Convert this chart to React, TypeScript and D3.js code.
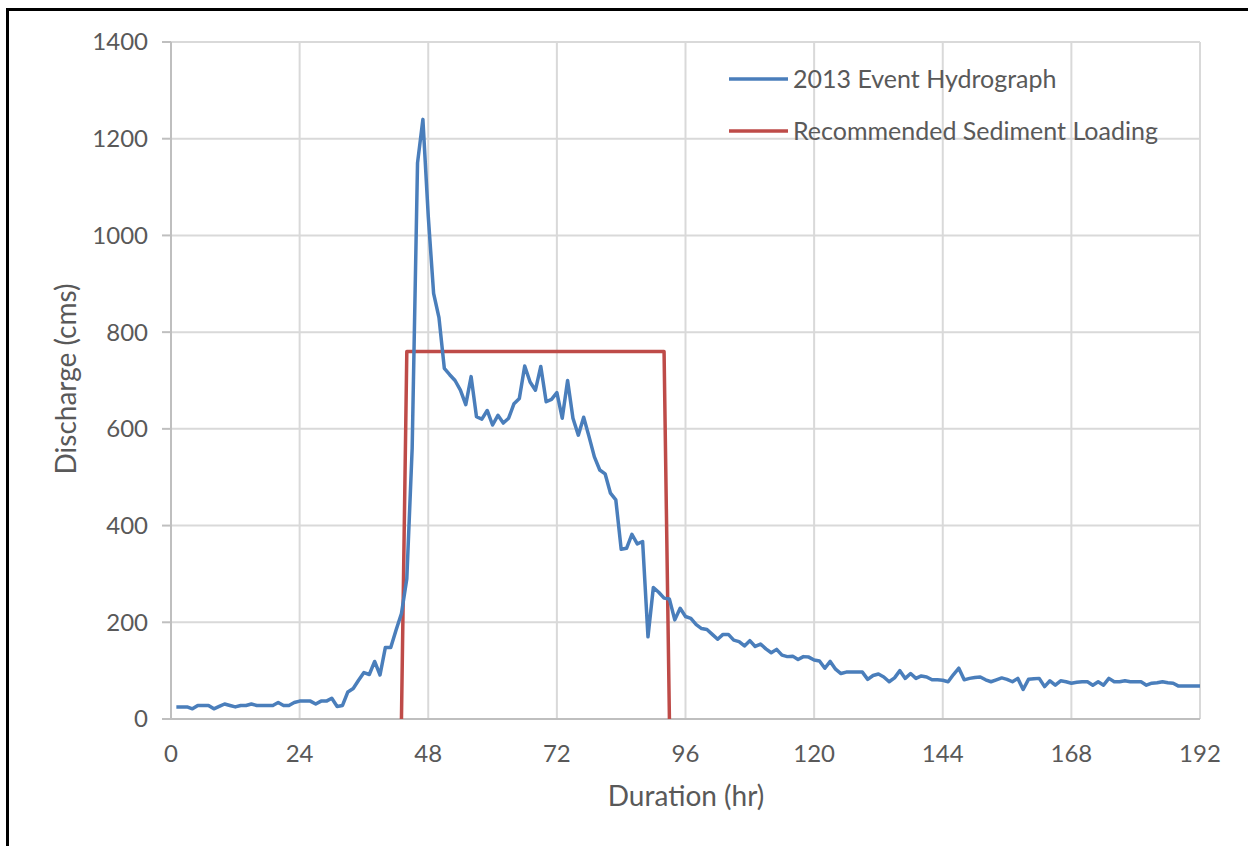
import React, { useEffect, useRef } from 'react';
import * as d3 from 'd3';

// hourly discharge (cms), hours 1..192
const hydrograph = [
  25, 25, 25, 21, 28, 28, 28, 21, 26, 31,
  28, 25, 28, 28, 31, 28, 28, 28, 28, 34,
  28, 28, 34, 37, 37, 37, 31, 37, 37, 43,
  26, 28, 56, 63, 80, 96, 92, 119, 91, 148,
  148, 184, 218, 290, 560, 1150, 1240, 1040, 880, 830,
  725, 712, 700, 680, 650, 708, 625, 620, 638, 608,
  628, 612, 622, 652, 663, 730, 697, 680, 729, 656,
  661, 675, 622, 700, 622, 587, 624, 584, 542, 515,
  507, 467, 453, 351, 353, 382, 362, 367, 170, 272,
  262, 250, 248, 205, 229, 212, 208, 195, 187, 185,
  175, 165, 175, 175, 163, 160, 151, 162, 150, 155,
  145, 137, 144, 132, 129, 130, 123, 129, 128, 122,
  120, 105, 119, 103, 94, 97, 97, 97, 97, 82,
  90, 93, 87, 77, 85, 100, 84, 94, 84, 89,
  87, 81, 81, 80, 77, 92, 105, 81, 84, 86,
  87, 81, 77, 81, 85, 82, 77, 84, 61, 82,
  83, 84, 67, 79, 70, 79, 77, 74, 76, 77,
  77, 70, 77, 70, 84, 77, 77, 79, 77, 77,
  77, 70, 74, 75, 77, 75, 74, 68, 68, 68,
  68, 68,
];

const loadingHours = [43, 44, 92, 93];
const loadingValues = [0, 760, 760, 0];

const xTicks = [0, 24, 48, 72, 96, 120, 144, 168, 192];
const yTicks = [0, 200, 400, 600, 800, 1000, 1200, 1400];

const seriesNames = ['2013 Event Hydrograph', 'Recommended Sediment Loading'];
const seriesColors = ['#4a7ebb', '#be4b48'];

const FONT = 'Lato, "Open Sans", sans-serif';
const TEXT = '#595959';

export default function App() {
  const ref = useRef<SVGSVGElement>(null);

  useEffect(() => {
    const svg = d3.select(ref.current);
    svg.selectAll('*').remove();

    const x = d3.scaleLinear().domain([0, 192]).range([171, 1200]);
    const y = d3.scaleLinear().domain([0, 1400]).range([719, 42]);

    // frame
    svg.append('line').attr('x1', 6).attr('x2', 1248).attr('y1', 9.5).attr('y2', 9.5)
      .attr('stroke', '#000').attr('stroke-width', 3);
    svg.append('line').attr('x1', 7.5).attr('x2', 7.5).attr('y1', 8).attr('y2', 846)
      .attr('stroke', '#000').attr('stroke-width', 3);

    // grid
    svg.append('g').selectAll('line').data(yTicks.filter(d => d > 0)).enter().append('line')
      .attr('x1', x(0)).attr('x2', x(192))
      .attr('y1', d => y(d)).attr('y2', d => y(d))
      .attr('stroke', '#d9d9d9').attr('stroke-width', 2);
    svg.append('g').selectAll('line').data(xTicks.filter(d => d > 0)).enter().append('line')
      .attr('x1', d => x(d)).attr('x2', d => x(d))
      .attr('y1', y(0)).attr('y2', y(1400))
      .attr('stroke', '#d9d9d9').attr('stroke-width', 2);

    // axes
    svg.append('line').attr('x1', x(0)).attr('x2', x(0)).attr('y1', y(0)).attr('y2', y(1400))
      .attr('stroke', '#bfbfbf').attr('stroke-width', 2);
    svg.append('line').attr('x1', x(0) - 9).attr('x2', x(192)).attr('y1', y(0)).attr('y2', y(0))
      .attr('stroke', '#bfbfbf').attr('stroke-width', 2);
    svg.append('g').selectAll('line').data(yTicks).enter().append('line')
      .attr('x1', x(0) - 9).attr('x2', x(0))
      .attr('y1', d => y(d)).attr('y2', d => y(d))
      .attr('stroke', '#bfbfbf').attr('stroke-width', 2);

    svg.append('g').selectAll('text').data(yTicks).enter().append('text')
      .attr('x', 148).attr('y', d => y(d)).attr('dy', '0.35em')
      .attr('text-anchor', 'end').attr('font-family', FONT).attr('font-size', 24)
      .attr('fill', TEXT).text(d => d);
    svg.append('g').selectAll('text').data(xTicks).enter().append('text')
      .attr('x', d => x(d)).attr('y', 762)
      .attr('text-anchor', 'middle').attr('font-family', FONT).attr('font-size', 24)
      .attr('fill', TEXT).text(d => d);

    svg.append('text').attr('x', 686).attr('y', 806).attr('text-anchor', 'middle')
      .attr('font-family', FONT).attr('font-size', 28).attr('fill', TEXT).text('Duration (hr)');
    svg.append('text').attr('transform', 'translate(76,379) rotate(-90)').attr('text-anchor', 'middle')
      .attr('font-family', FONT).attr('font-size', 28).attr('fill', TEXT).text('Discharge (cms)');

    // series
    const line = d3.line<[number, number]>().x(d => x(d[0])).y(d => y(d[1]));
    svg.append('path')
      .datum(loadingHours.map((h, i) => [h, loadingValues[i]] as [number, number]))
      .attr('fill', 'none').attr('stroke', seriesColors[1]).attr('stroke-width', 3.5)
      .attr('stroke-linejoin', 'round').attr('d', line);
    svg.append('path')
      .datum(hydrograph.map((v, i) => [i + 1, v] as [number, number]))
      .attr('fill', 'none').attr('stroke', seriesColors[0]).attr('stroke-width', 3.5)
      .attr('stroke-linejoin', 'round').attr('d', line);

    // legend
    const legend = svg.append('g').selectAll('g').data(seriesNames).enter().append('g')
      .attr('transform', (d, i) => 'translate(729,' + (79 + i * 52) + ')');
    legend.append('line').attr('x1', 0).attr('x2', 59).attr('y1', 0).attr('y2', 0)
      .attr('stroke', (d, i) => seriesColors[i]).attr('stroke-width', 3.5);
    legend.append('text').attr('x', 64).attr('y', 0).attr('dy', '0.35em')
      .attr('font-family', FONT).attr('font-size', 25).attr('fill', TEXT).text(d => d);
  }, []);

  return (
    <svg ref={ref} width={1248} height={846}
      style={{ position: 'absolute', left: 0, top: 0, background: '#fff' }} />
  );
}
